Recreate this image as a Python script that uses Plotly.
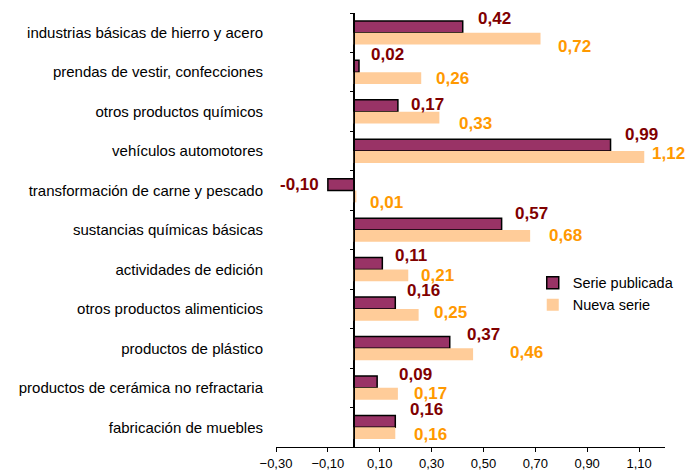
import plotly.graph_objects as go

categories = ["industrias básicas de hierro y acero",
              "prendas de vestir, confecciones",
              "otros productos químicos",
              "vehículos automotores",
              "transformación de carne y pescado",
              "sustancias químicas básicas",
              "actividades de edición",
              "otros productos alimenticios",
              "productos de plástico",
              "productos de cerámica no refractaria",
              "fabricación de muebles"]
serie_publicada = [0.42, 0.02, 0.17, 0.99, -0.10, 0.57, 0.11, 0.16, 0.37, 0.09, 0.16]
nueva_serie = [0.72, 0.26, 0.33, 1.12, 0.01, 0.68, 0.21, 0.25, 0.46, 0.17, 0.16]
x_ticks = [-0.30, -0.10, 0.10, 0.30, 0.50, 0.70, 0.90, 1.10]

# hand-placed label nudges (pixels) as in the original chart
pub_dx = [13, 10, 11, 12, -7, 11, 11, 10, 15, 20, 13]
pub_dy = [8, 12, 1, 11, 0, 11, 8, 12, 8, 7, 12]
new_dx = [15, 13, 18, 6, 12, 17, 11, 13, 35, 14, 17]
new_dy = [-8, 0, -6, 4, -6, 0, 0, 2, 2, 0, -1]

n = len(categories)
pos = [n - 1 - i for i in range(n)]
W = 0.30

DARK = "#993366"
LIGHT = "#FFCC99"
DARK_TXT = "#800000"
ORANGE_TXT = "#FF9900"
FONT = "Liberation Sans, Arial, sans-serif"

fig = go.Figure()
fig.add_trace(go.Bar(y=pos, x=serie_publicada, orientation="h", width=W, offset=0,
                     marker=dict(color=DARK, line=dict(color="black", width=1.5)),
                     name="Serie publicada"))
fig.add_trace(go.Bar(y=pos, x=nueva_serie, orientation="h", width=W, offset=-W,
                     marker=dict(color=LIGHT, line=dict(width=0)),
                     name="Nueva serie"))

ann = []
for p, v, dx, dy in zip(pos, serie_publicada, pub_dx, pub_dy):
    ann.append(dict(x=v, y=p + W / 2, xref="x", yref="y", text=f"{v:.2f}".replace(".", ","),
                    showarrow=False, xanchor="right" if v < 0 else "left",
                    xshift=dx, yshift=dy,
                    font=dict(family=FONT, size=17, color=DARK_TXT, weight="bold")))
for p, v, dx, dy in zip(pos, nueva_serie, new_dx, new_dy):
    ann.append(dict(x=v, y=p - W / 2, xref="x", yref="y", text=f"{v:.2f}".replace(".", ","),
                    showarrow=False, xanchor="left", xshift=dx, yshift=dy,
                    font=dict(family=FONT, size=17, color=ORANGE_TXT, weight="bold")))

# page body has an 8px margin: figure is sized/positioned to compensate
fig.update_layout(
    width=685, height=463,
    margin=dict(l=268, r=28, t=5, b=24, autoexpand=False),
    paper_bgcolor="white", plot_bgcolor="white",
    separators=",.",
    barmode="overlay",
    showlegend=True,
    legend=dict(x=0.66, y=0.415, xanchor="left", yanchor="top",
                font=dict(family=FONT, size=14.5, color="black"),
                bgcolor="rgba(0,0,0,0)", tracegroupgap=0, itemwidth=30),
    xaxis=dict(range=[-0.30, 1.20], tickvals=x_ticks, tickformat=".2f", automargin=False,
               showgrid=False, zeroline=True, zerolinecolor="black", zerolinewidth=1,
               showline=True, linecolor="black", linewidth=1,
               ticks="outside", ticklen=4, tickcolor="black",
               tickfont=dict(family=FONT, size=13, color="black")),
    yaxis=dict(range=[-0.5, n - 0.5], tickvals=pos, ticktext=categories, automargin=False,
               showgrid=False, zeroline=False, showline=False, ticks="",
               ticklabelstandoff=12,
               tickfont=dict(family=FONT, size=15, color="black")),
    yaxis2=dict(overlaying="y", anchor="free", position=0.30 / 1.50, side="left",
                automargin=False,
                range=[-0.5, n - 0.5], tickvals=[p + 0.5 for p in range(-1, n)],
                showticklabels=False, ticks="outside", ticklen=4, tickcolor="black",
                showline=True, linecolor="black", linewidth=1, showgrid=False, zeroline=False),
    annotations=ann,
)
# invisible trace to activate yaxis2
fig.add_trace(go.Scatter(x=[0], y=[0], yaxis="y2", mode="markers",
                         marker=dict(opacity=0), showlegend=False, hoverinfo="skip"))

fig.write_html("out.html")
